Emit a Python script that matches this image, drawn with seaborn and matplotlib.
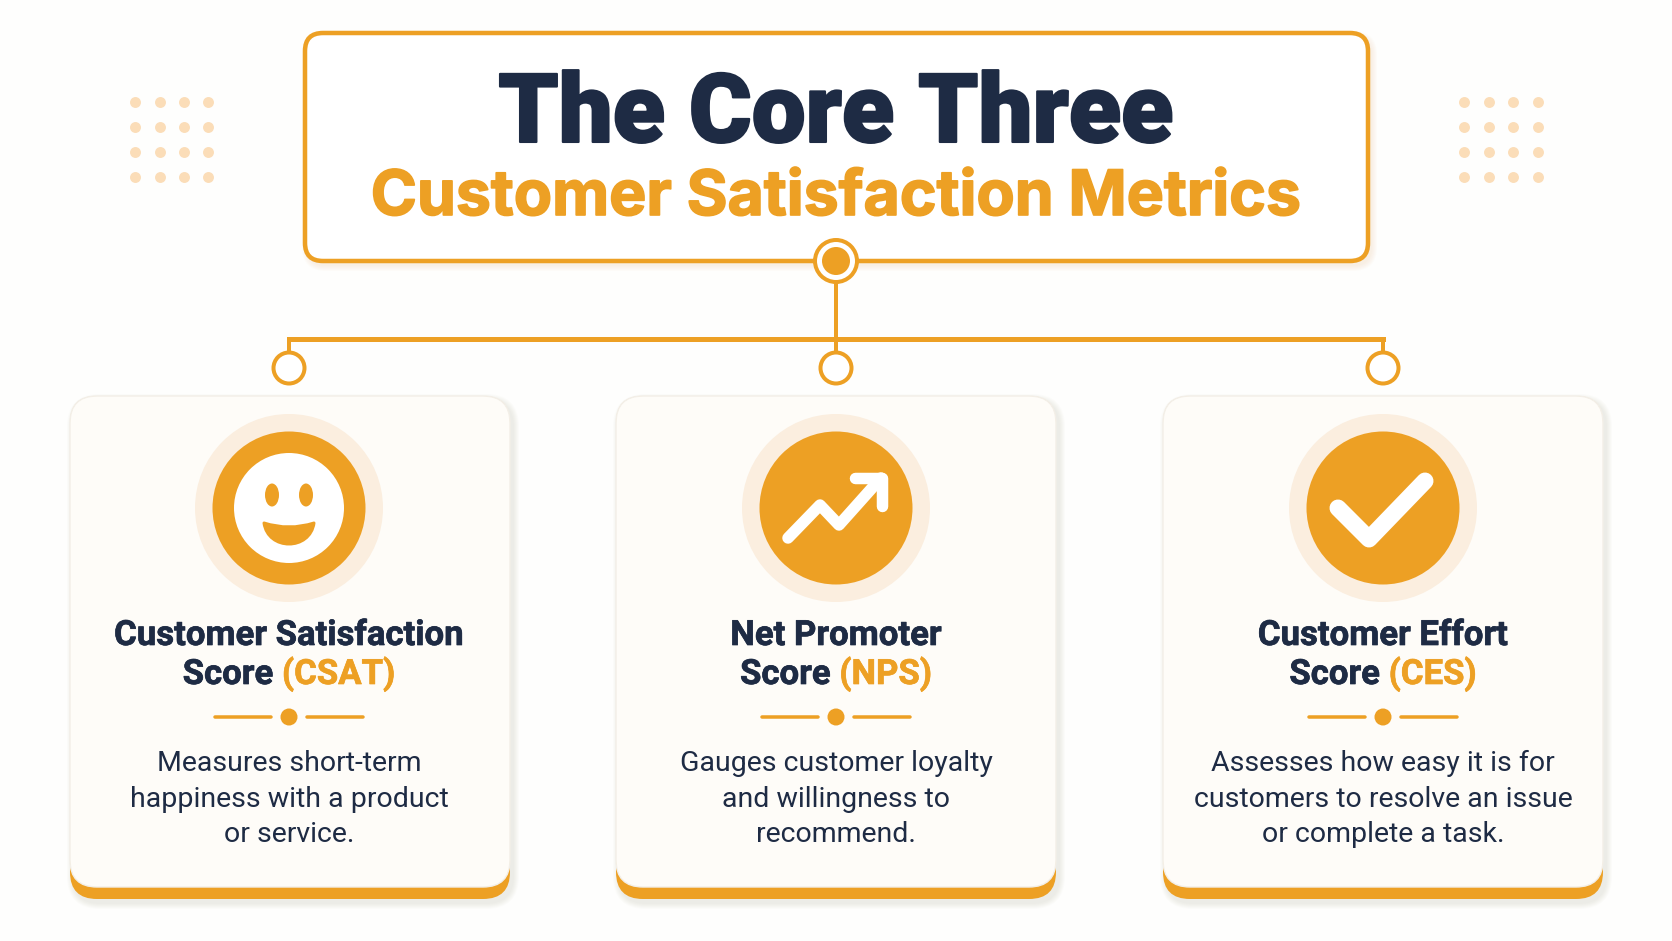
import matplotlib.pyplot as plt
import matplotlib.patheffects as pe
import seaborn as sns
import pandas as pd
from matplotlib.patches import Circle, Ellipse, FancyBboxPatch, PathPatch
from matplotlib.path import Path

# Text content
title_main = "The Core Three"
title_sub = "Customer Satisfaction Metrics"
card_titles = ["Customer Satisfaction", "Net Promoter", "Customer Effort"]
card_scores = ["Score ", "Score ", "Score "]
card_abbrevs = ["(CSAT)", "(NPS)", "(CES)"]
card_bodies = [
    ["Measures short-term", "happiness with a product", "or service."],
    ["Gauges customer loyalty", "and willingness to", "recommend."],
    ["Assesses how easy it is for", "customers to resolve an issue", "or complete a task."],
]

# Colours
ORANGE = "#EDA024"
NAVY = "#1E2B44"
HALO = "#FBEEDF"
DOT = "#FBDDB8"
CREAM = "#FEFCF8"
BG = "#FEFEFD"

sns.set_theme(style="white")
plt.rcParams["font.family"] = ["Roboto", "DejaVu Sans"]

W, H = 1672, 941
PX = 0.72  # one pixel in points at dpi 100

fig = plt.figure(figsize=(W / 100, H / 100), dpi=100, facecolor=BG)
ax = fig.add_axes([0, 0, 1, 1])
ax.set_xlim(0, W)
ax.set_ylim(H, 0)
ax.axis("off")


def rounded(x0, y0, x1, y1, r, **kw):
    ax.add_patch(FancyBboxPatch((x0, y0), x1 - x0, y1 - y0,
                                boxstyle=f"round,pad=0,rounding_size={r}", **kw))


def soft_shadow(x0, y0, x1, y1, r, color, dx, dy, layers=6, alpha=0.025):
    for i in range(layers):
        g = layers - i
        rounded(x0 + dx - g, y0 + dy - g, x1 + dx + g, y1 + dy + g, r + g,
                fc=color, ec="none", alpha=alpha, zorder=1)


def heavier(width, color):
    return [pe.withStroke(linewidth=width, foreground=color)]


# decorative dot grids
grid_x = [135, 160, 184, 208, 1464, 1489, 1513, 1538]
grid_y = [102, 127, 152, 177]
grid = pd.DataFrame([(x, y) for x in grid_x for y in grid_y], columns=["x", "y"])
sns.scatterplot(data=grid, x="x", y="y", color=DOT, s=62, linewidth=0, ax=ax, zorder=2)
ax.set_xlabel("")
ax.set_ylabel("")

# title box
soft_shadow(305, 33, 1368, 261, 18, "#D9A050", 3, 4)
rounded(305, 33, 1368, 261, 18, fc="white", ec=ORANGE, lw=4.5 * PX, zorder=3)
ax.text(836, 142, title_main, ha="center", va="baseline", fontsize=69,
        fontweight="black", color=NAVY, zorder=5, path_effects=heavier(1.5, NAVY))
ax.text(836, 215, title_sub, ha="center", va="baseline", fontsize=45,
        fontweight="bold", family=["Inter", "DejaVu Sans"], color=ORANGE, zorder=5,
        path_effects=heavier(1.2, ORANGE))

# connector
CX = [289, 836, 1383]
ax.plot([CX[0], CX[2]], [338.5, 338.5], color=ORANGE, lw=5 * PX, zorder=2, solid_capstyle="projecting")
ax.plot([836, 836], [261, 352], color=ORANGE, lw=4 * PX, zorder=2)
for cx in CX:
    ax.plot([cx, cx], [339, 352], color=ORANGE, lw=4 * PX, zorder=2)
    ax.add_patch(Circle((cx, 368), 15.5, fc="white", ec=ORANGE, lw=4 * PX, zorder=4))
ax.add_patch(Circle((836, 261), 21, fc="white", ec=ORANGE, lw=4 * PX, zorder=4))
ax.add_patch(Circle((836, 261), 14, fc=ORANGE, ec="none", zorder=5))


def draw_smile(cx, cy):
    ax.add_patch(Circle((cx, cy), 55, fc="white", ec="none", zorder=6))
    for side in (-1, 1):
        ax.add_patch(Ellipse((cx + side * 17, cy - 13), 14, 23, fc=ORANGE, ec="none", zorder=7))
    y0 = cy + 15
    verts = [(cx - 25, y0), (cx, y0 + 8), (cx + 25, y0),
             (cx + 21, y0 + 28), (cx - 21, y0 + 28), (cx - 25, y0), (cx - 25, y0)]
    codes = [Path.MOVETO, Path.CURVE3, Path.CURVE3, Path.CURVE4, Path.CURVE4, Path.CURVE4, Path.CLOSEPOLY]
    ax.add_patch(PathPatch(Path(verts, codes), fc=ORANGE, ec=ORANGE, lw=3 * PX,
                           joinstyle="round", zorder=7))


def draw_arrow(cx, cy):
    xs = [cx - 48, cx - 16, cx + 3, cx + 45]
    ys = [cy + 30, cy - 3, cy + 17, cy - 30]
    ax.plot(xs, ys, color="white", lw=11.5 * PX, solid_capstyle="round",
            solid_joinstyle="round", zorder=7)
    ax.plot([cx + 19, cx + 46, cx + 46], [cy - 30, cy - 30, cy - 2], color="white", lw=11.5 * PX,
            solid_capstyle="round", solid_joinstyle="round", zorder=7)


def draw_check(cx, cy):
    ax.plot([cx - 45, cx - 14, cx + 42], [cy, cy + 31, cy - 27], color="white", lw=17 * PX,
            solid_capstyle="round", solid_joinstyle="round", zorder=7)


def two_colour_line(cx, y, left, right, **kw):
    renderer = fig.canvas.get_renderer()
    t1 = ax.text(0, y, left, ha="left", va="baseline", color=NAVY, zorder=7,
                 path_effects=heavier(0.5, NAVY), **kw)
    t2 = ax.text(0, y, right, ha="left", va="baseline", color=ORANGE, zorder=7,
                 path_effects=heavier(0.5, ORANGE), **kw)
    # trailing space is not measured reliably, measure it with a marker pair
    probe = ax.text(0, y, left + "|", **kw)
    bar = ax.text(0, y, "|", **kw)
    w1 = probe.get_window_extent(renderer).width - bar.get_window_extent(renderer).width
    probe.remove()
    bar.remove()
    w2 = t2.get_window_extent(renderer).width
    start = cx - (w1 + w2) / 2
    t1.set_x(start)
    t2.set_x(start + w1)


# cards
card_left = [70, 616, 1163]
card_w = 440
icons = [draw_smile, draw_arrow, draw_check]
for i in range(3):
    x0 = card_left[i]
    x1 = x0 + card_w
    cx = CX[i]
    soft_shadow(x0, 396, x1, 899, 27, "#8A8070", 3, 4)
    rounded(x0, 396, x1, 899, 27, fc=ORANGE, ec="none", zorder=2)
    rounded(x0, 396, x1, 887, 27, fc=CREAM, ec="#F3EFE8", lw=1.0, zorder=3)

    ax.add_patch(Circle((cx, 508), 94, fc=HALO, ec="none", zorder=4))
    ax.add_patch(Circle((cx, 508), 76.5, fc=ORANGE, ec="none", zorder=5))
    icons[i](cx, 508)

    ax.text(cx, 645, card_titles[i], ha="center", va="baseline", fontsize=25,
            fontweight="bold", color=NAVY, zorder=7, path_effects=heavier(0.5, NAVY))
    two_colour_line(cx, 684, card_scores[i], card_abbrevs[i], fontsize=25, fontweight="bold")

    ax.add_patch(Circle((cx, 717), 8.5, fc=ORANGE, ec="none", zorder=7))
    ax.plot([cx - 74, cx - 18], [717, 717], color=ORANGE, lw=3.5 * PX, zorder=7)
    ax.plot([cx + 18, cx + 74], [717, 717], color=ORANGE, lw=3.5 * PX, zorder=7)

    for line, y in zip(card_bodies[i], [771, 807, 842]):
        ax.text(cx, y, line, ha="center", va="baseline", fontsize=20.5,
                color=NAVY, zorder=7)

fig.savefig("out.png", dpi=100, facecolor=BG)
